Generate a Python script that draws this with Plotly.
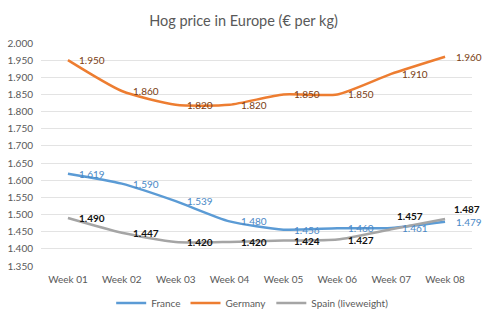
import plotly.graph_objects as go

weeks = ["Week 01", "Week 02", "Week 03", "Week 04", "Week 05", "Week 06", "Week 07", "Week 08"]
france = [1.619, 1.590, 1.539, 1.480, 1.456, 1.460, 1.461, 1.479]
germany = [1.950, 1.860, 1.820, 1.820, 1.850, 1.850, 1.910, 1.960]
spain = [1.490, 1.447, 1.420, 1.420, 1.424, 1.427, 1.457, 1.487]
y_ticks = [1.35, 1.40, 1.45, 1.50, 1.55, 1.60, 1.65, 1.70, 1.75, 1.80, 1.85, 1.90, 1.95, 2.00]

FONT = "Lato, 'Open Sans', sans-serif"

def fmt(v):
    return f"{v:.3f}"

fig = go.Figure()

# label offsets (pixels) per point: (xshift, yshift)
default_off = [(9, 0)] * 8
spain_off = [(9, 0)] * 6 + [(4, 13), (7, 10)]

series = [
    ("France", france, "#5b9bd5", "#4a88c6", default_off, False),
    ("Germany", germany, "#ed7d31", "#7a3d12", default_off, False),
    ("Spain (liveweight)", spain, "#a5a5a5", "#111111", spain_off, True),
]

annotations = []
for name, vals, lc, tc, offs, bold in series:
    fig.add_trace(go.Scatter(
        x=weeks, y=vals, name=name, mode="lines",
        line=dict(color=lc, width=2.5, shape="spline", smoothing=0.6),
    ))
    for wk, v, (dx, dy) in zip(weeks, vals, offs):
        annotations.append(dict(
            x=wk, y=v, xref="x", yref="y", showarrow=False,
            text=("<b>%s</b>" % fmt(v)) if bold else fmt(v),
            xanchor="left", yanchor="middle", xshift=dx, yshift=dy,
            font=dict(family=FONT, size=10, color=tc),
        ))

fig.update_layout(
    width=500, height=321,
    margin=dict(l=41, r=28, t=43, b=55, autoexpand=False),
    paper_bgcolor="white", plot_bgcolor="white",
    title=dict(text="Hog price in Europe (€ per kg)", x=0.487, xanchor="center",
               y=0.935, yanchor="middle",
               font=dict(family=FONT, size=14.5, color="#595959")),
    showlegend=True,
    legend=dict(orientation="h", x=0.49, xanchor="center",
                yref="container", y=0.056, yanchor="middle",
                font=dict(family=FONT, size=10, color="#595959"),
                itemwidth=30, tracegroupgap=0),
    annotations=annotations,
    xaxis=dict(type="category", range=[-0.5, 7.5], showgrid=False, zeroline=False,
               showline=False, ticks="", tickfont=dict(family=FONT, size=10, color="#595959"),
               ticklabelstandoff=6),
    yaxis=dict(range=[1.35, 2.0], tickvals=y_ticks,
               ticktext=[f"{v:.3f}" for v in y_ticks],
               showgrid=True, gridcolor="#e3e3e3", gridwidth=1, zeroline=False,
               showline=False, ticks="", tickfont=dict(family=FONT, size=10, color="#595959"),
               ticklabelstandoff=7),
)

fig.write_html("out.html")
